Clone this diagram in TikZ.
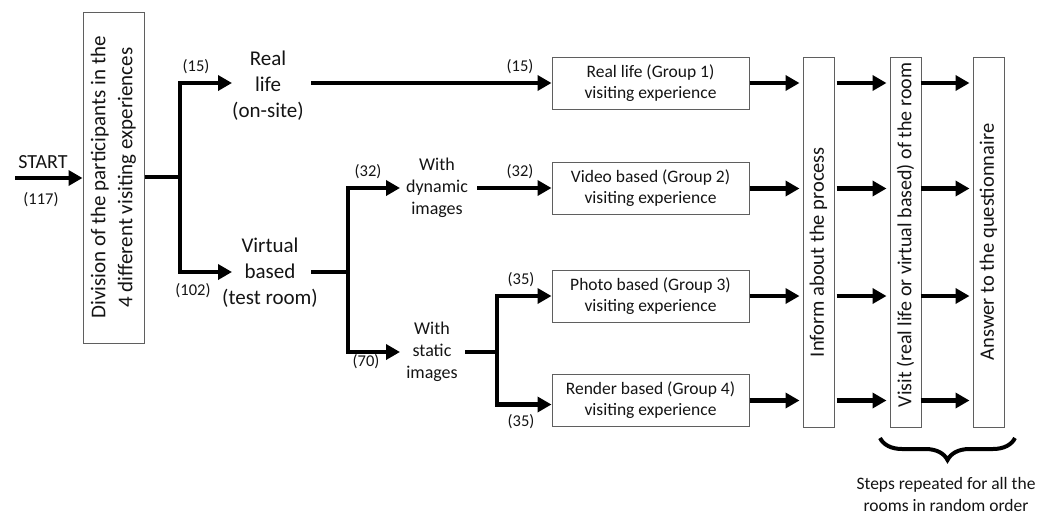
\documentclass[tikz,border=0pt]{standalone}
\usepackage{fontspec}
\setmainfont{Carlito}
\usetikzlibrary{arrows.meta,decorations.pathreplacing}
\definecolor{boxline}{RGB}{95,95,95}
\definecolor{txt}{RGB}{20,20,20}
\tikzset{
  arr/.style={line width=4.5pt,-{Triangle[length=14pt,width=15pt]},line join=miter},
  plainline/.style={line width=4.5pt,line join=miter},
  bigtxt/.style={inner sep=0pt,align=center,text=txt,font=\fontsize{21}{26}\selectfont},
  midtxt/.style={inner sep=0pt,align=center,text=txt,font=\fontsize{18}{22}\selectfont},
  lbl/.style={inner sep=0pt,text=txt,font=\fontsize{16.5}{19}\selectfont},
  grpbox/.style={draw=boxline,line width=1pt,minimum width=197pt,minimum height=52pt,inner sep=0pt,align=center,text=txt,font=\fontsize{17.5}{21}\selectfont},
  colbox/.style={draw=boxline,line width=1pt,rotate=90,minimum width=370pt,minimum height=31pt,inner sep=0pt,text=txt,font=\fontsize{20.5}{24}\selectfont},
}
\begin{document}
\begin{tikzpicture}[x=1pt,y=-1pt]
\useasboundingbox (0,0) rectangle (1049,517);
% start
\coordinate (startpt) at (15,178);
\node[bigtxt,font=\fontsize{20}{24}\selectfont] (starttxt) at (43,162) {START};
\node[lbl] (n117) at (41,200) {(117)};
\node[draw=boxline,line width=1pt,rotate=90,minimum width=331pt,minimum height=61pt,inner sep=0pt,align=center,text=txt,font=\fontsize{21}{27}\selectfont] (div) at (113.5,177.5) {Division of the participants in the\\4 different visiting experiences};
\draw[arr] (startpt) -- (startpt -| div.north);
% first branch
\coordinate (j1) at (180,177);
\node[bigtxt] (real) at (268,86) {Real\\life\\(on-site)};
\node[bigtxt] (virt) at (270,273) {Virtual\\based\\(test room)};
\coordinate (realin) at (232,83);
\coordinate (realout) at (311,83);
\coordinate (virtin) at (232,272);
\coordinate (virtout) at (311,272);
\draw[plainline] (div.south |- j1) -- (j1);
\draw[arr] (j1) |- (realin);
\draw[arr] (j1) |- (virtin);
\node[lbl] (l15a) at (196,67) {(15)};
\node[lbl] (l102) at (193,291) {(102)};
% second branch
\coordinate (j2) at (348,272);
\node[midtxt] (dyn) at (437,188) {With\\dynamic\\images};
\node[midtxt] (stat) at (432,352) {With\\static\\images};
\coordinate (dynin) at (400,188);
\coordinate (statin) at (400,352);
\coordinate (dynout) at (477,188);
\coordinate (statout) at (465,352);
\draw[plainline] (virtout) -- (j2);
\draw[arr] (j2) |- (dynin);
\draw[arr] (j2) |- (statin);
\node[lbl] (l32a) at (368,172) {(32)};
\node[lbl] (l70) at (366,362) {(70)};
% group boxes
\node[grpbox] (g1) at (650.5,83) {Real life (Group 1)\\visiting experience};
\node[grpbox] (g2) at (650.5,188.5) {Video based (Group 2)\\visiting experience};
\node[grpbox] (g3) at (650.5,296) {Photo based (Group 3)\\visiting experience};
\node[grpbox] (g4) at (650.5,400.5) {Render based (Group 4)\\visiting experience};
\draw[arr] (realout) -- (realout -| g1.west);
\node[lbl] (l15b) at (520,67) {(15)};
\draw[arr] (dynout) -- (dynout -| g2.west);
\node[lbl] (l32b) at (520,172) {(32)};
% third branch
\coordinate (j3) at (497,352);
\draw[plainline] (statout) -- (j3);
\draw[arr] (j3) |- (g3.west);
\draw[arr] (j3) |- ([yshift=-4pt]g4.west);
\node[lbl] (l35a) at (521,280) {(35)};
\node[lbl] (l35b) at (521,422) {(35)};
% columns
\node[colbox] (inform) at (818.5,242) {\hspace*{-20pt}Inform about the process};
\node[colbox,font=\fontsize{20}{24}\selectfont] (visit) at (905.5,242) {\hspace*{14pt}Visit (real life or virtual based) of the room};
\node[colbox] (answer) at (988.5,242) {Answer to the questionnaire};
\foreach \g in {g1,g2,g3,g4}{
  \draw[arr,shorten >=3pt] (\g.east) -- (\g.east -| inform.north);
  \draw[arr,shorten <=2pt,shorten >=3pt] (\g.east -| inform.south) -- (\g.east -| visit.north);
  \draw[arr,shorten <=-1pt,shorten >=3pt] (\g.east -| visit.south) -- (\g.east -| answer.north);
}
% brace
\coordinate (brl) at (880,438);
\coordinate (brr) at (1015,438);
\draw[line width=4pt,decorate,decoration={brace,amplitude=22pt,mirror}] (brl) -- (brr);
\node[align=center,inner sep=0pt,text=txt,font=\fontsize{17.5}{22}\selectfont] (steps) at (946,494) {Steps repeated for all the\\rooms in random order};
\end{tikzpicture}
\end{document}
